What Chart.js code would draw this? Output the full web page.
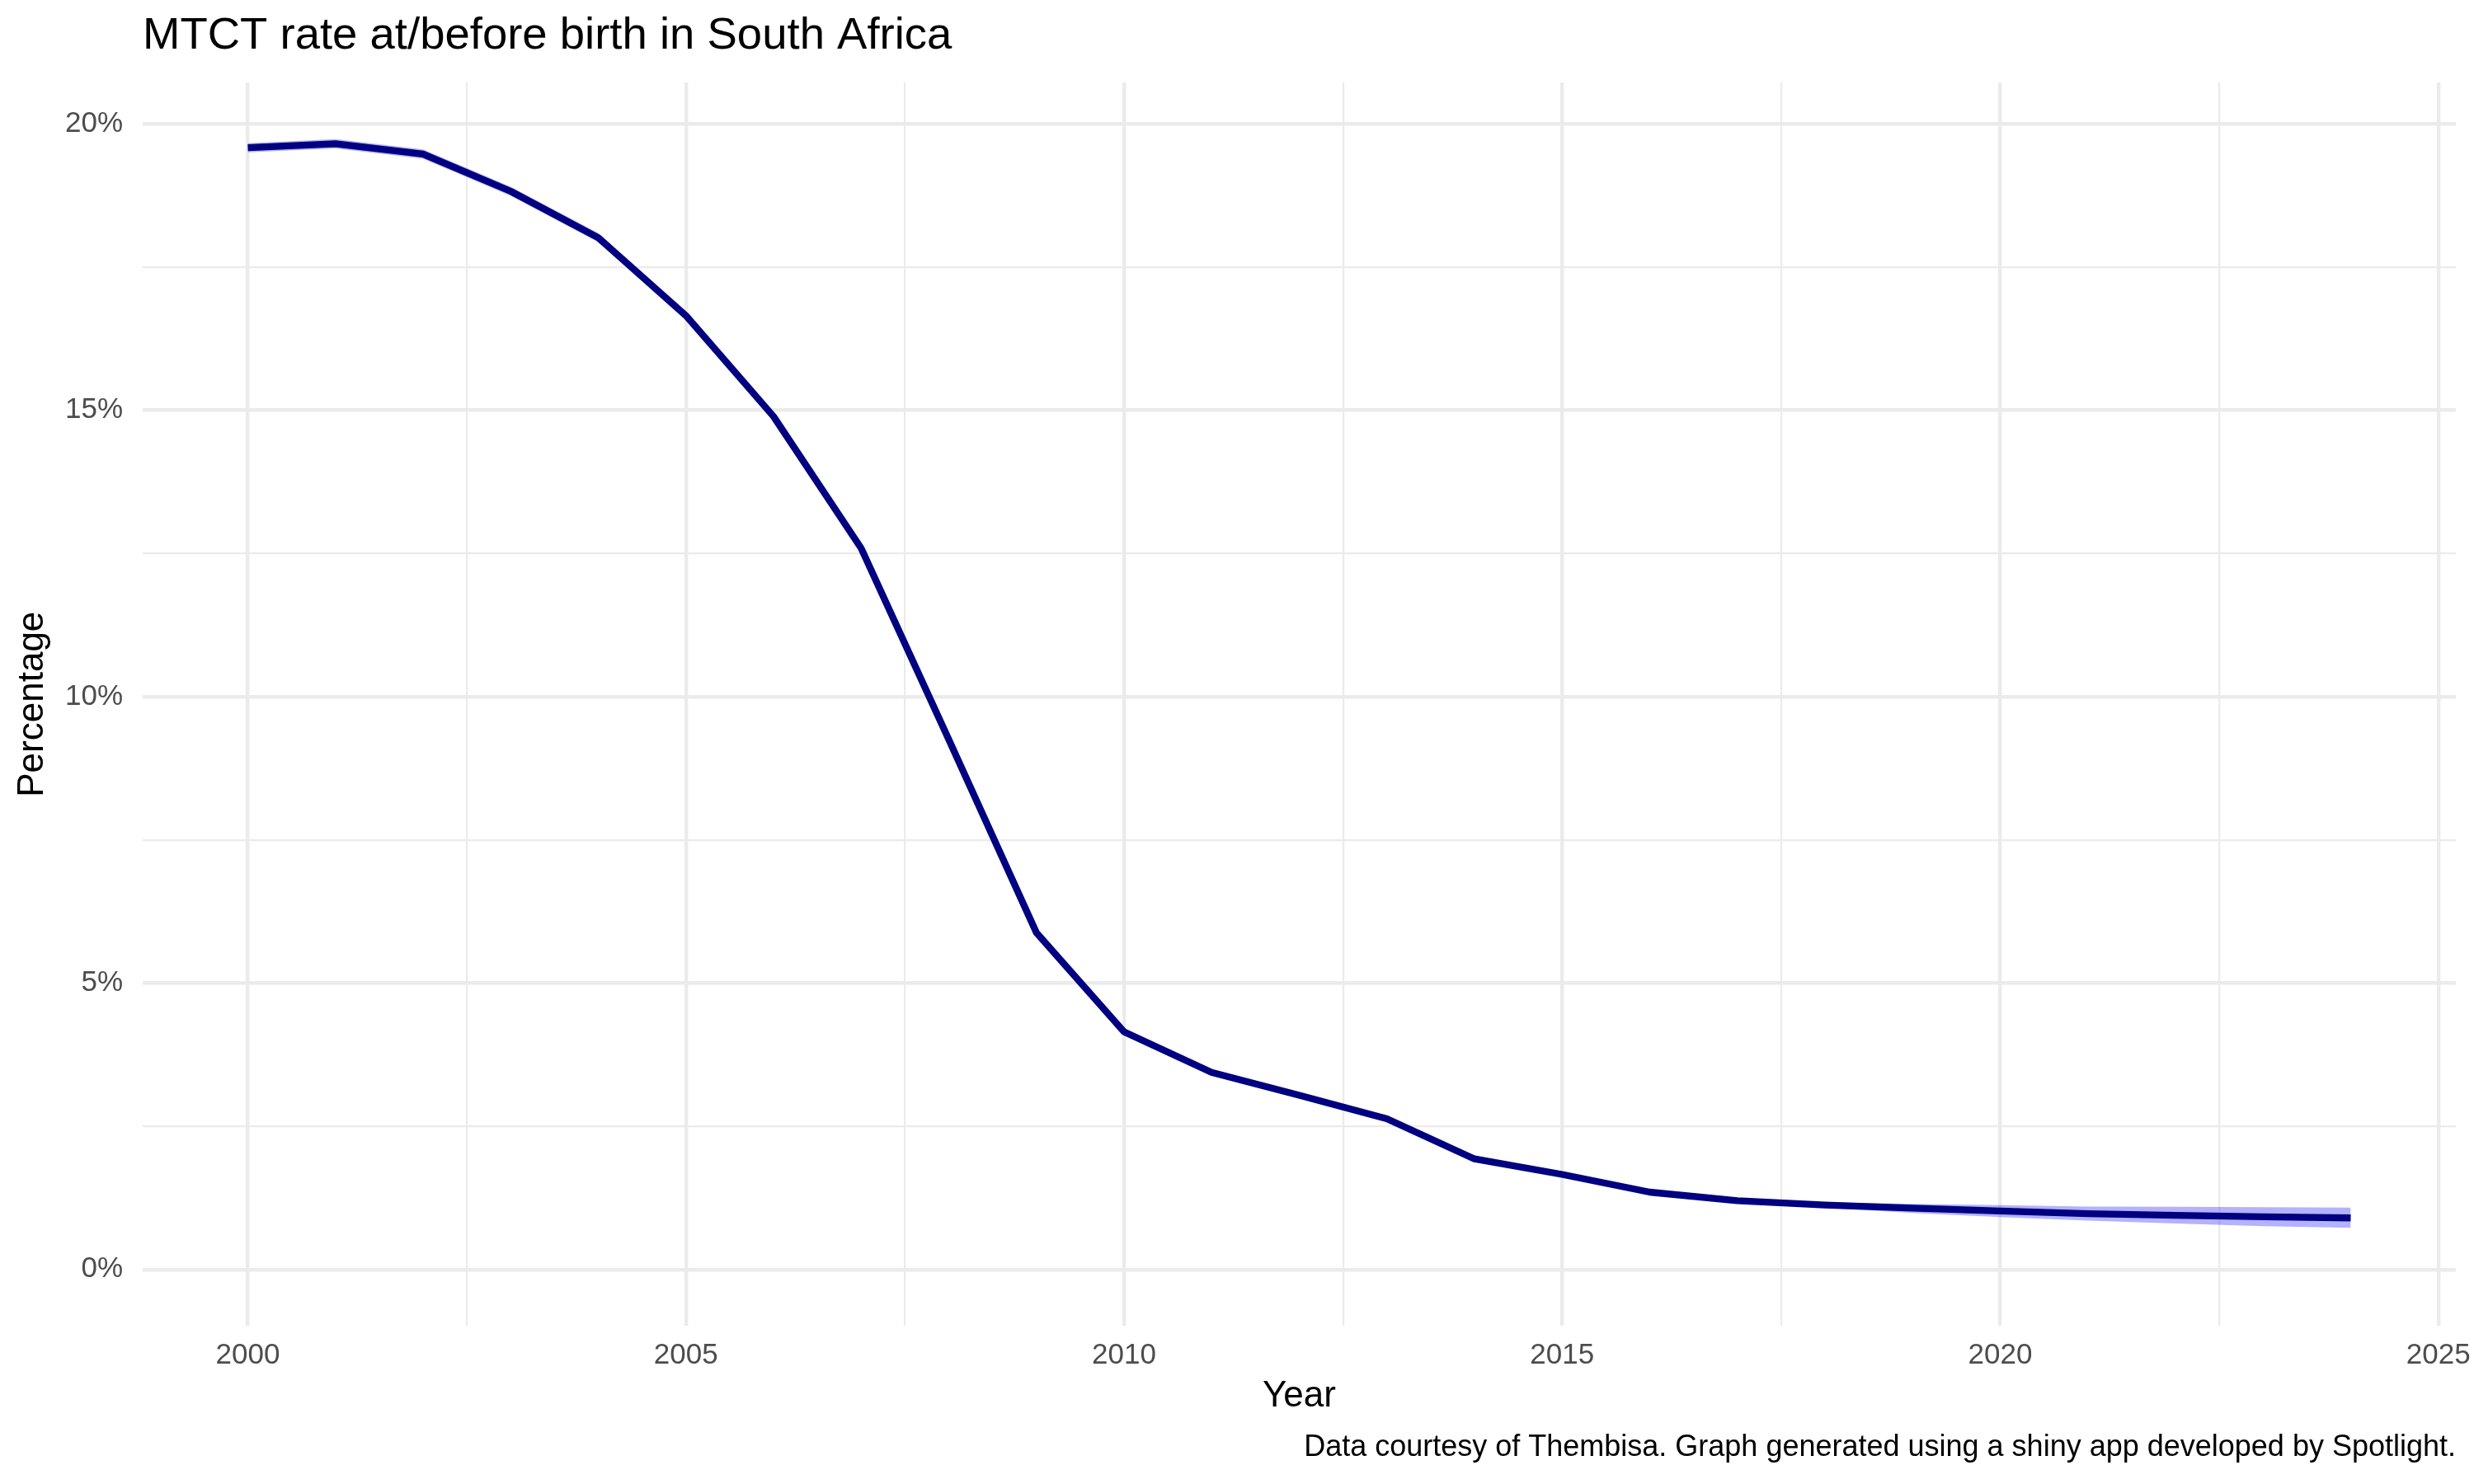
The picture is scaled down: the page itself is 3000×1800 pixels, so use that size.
<!DOCTYPE html>
<html>
<head>
<meta charset="utf-8">
<script src="https://cdn.jsdelivr.net/npm/chart.js@4/dist/chart.umd.min.js"></script>
<style>
  html, body { margin: 0; padding: 0; background: #ffffff; }
  #wrap { width: 3000px; height: 1800px; }
  canvas { display: block; }
</style>
</head>
<body>
<div id="wrap"><canvas id="c" width="3000" height="1800"></canvas></div>
<script>
// ---- data ----
const years = [2000, 2001, 2002, 2003, 2004, 2005, 2006, 2007, 2008, 2009, 2010, 2011, 2012,
               2013, 2014, 2015, 2016, 2017, 2018, 2019, 2020, 2021, 2022, 2023, 2024];
const mtctRate = [19.58, 19.65, 19.47, 18.82, 18.01, 16.65, 14.89, 12.59, 9.25, 5.88, 4.15, 3.44, 3.04,
                  2.63, 1.93, 1.66, 1.35, 1.20, 1.125, 1.07, 1.02, 0.975, 0.945, 0.92, 0.90];
const mtctUpper = [19.66, 19.73, 19.55, 18.90, 18.09, 16.69, 14.93, 12.63, 9.29, 5.92, 4.19, 3.48, 3.08,
                   2.67, 1.97, 1.70, 1.39, 1.24, 1.175, 1.145, 1.125, 1.10, 1.093, 1.088, 1.079];
const mtctLower = [19.50, 19.57, 19.39, 18.74, 17.93, 16.61, 14.85, 12.55, 9.21, 5.84, 4.11, 3.40, 3.00,
                   2.59, 1.89, 1.62, 1.31, 1.16, 1.075, 0.985, 0.915, 0.855, 0.805, 0.758, 0.727];
const xTickValues = [2000, 2002.5, 2005, 2007.5, 2010, 2012.5, 2015, 2017.5, 2020, 2022.5, 2025];
const yTickValues = [0, 2.5, 5, 7.5, 10, 12.5, 15, 17.5, 20];
const titleText = 'MTCT rate at/before birth in South Africa';
const captionText = 'Data courtesy of Thembisa. Graph generated using a shiny app developed by Spotlight.';
const xAxisTitle = 'Year';
const yAxisTitle = 'Percentage';

const FONT = "'Liberation Sans', Arial, Helvetica, sans-serif";
const toPoints = (vals) => years.map((x, i) => ({ x: x, y: vals[i] }));
const isMajor = (v) => Math.abs(v % 5) < 1e-9;
const gridWidth = (ctx) => (ctx.tick && isMajor(ctx.tick.value)) ? 4.4 : 2.2;

new Chart(document.getElementById('c'), {
  type: 'line',
  data: {
    datasets: [
      {
        label: 'MTCT rate',
        data: toPoints(mtctRate),
        borderColor: '#000080',
        borderWidth: 8.3,
        borderJoinStyle: 'round',
        borderCapStyle: 'butt',
        pointRadius: 0,
        tension: 0,
        fill: false
      },
      {
        label: 'upper',
        data: toPoints(mtctUpper),
        borderColor: 'rgba(0,0,0,0)',
        borderWidth: 1,
        backgroundColor: 'rgba(0,0,255,0.3)',
        pointRadius: 0,
        tension: 0,
        fill: '+1'
      },
      {
        label: 'lower',
        data: toPoints(mtctLower),
        borderColor: 'rgba(0,0,0,0)',
        borderWidth: 1,
        pointRadius: 0,
        tension: 0,
        fill: false
      }
    ]
  },
  options: {
    responsive: false,
    maintainAspectRatio: false,
    devicePixelRatio: 1,
    animation: false,
    events: [],
    layout: { padding: { left: 0, right: 22, top: 0, bottom: 0 } },
    plugins: {
      legend: { display: false },
      tooltip: { enabled: false },
      title: {
        display: true,
        text: titleText,
        align: 'start',
        fullSize: false,
        color: '#000000',
        font: { family: FONT, size: 54.5, weight: 'normal' },
        padding: { top: 11.5, bottom: 23.1 }
      },
      subtitle: {
        display: true,
        position: 'bottom',
        text: captionText,
        align: 'end',
        fullSize: false,
        color: '#000000',
        font: { family: FONT, size: 36, weight: 'normal' },
        padding: { top: 0, bottom: 22.3 }
      }
    },
    scales: {
      x: {
        type: 'linear',
        min: 1998.8,
        max: 2025.2,
        afterBuildTicks: (s) => { s.ticks = xTickValues.map(v => ({ value: v })); },
        afterFit: (s) => { s.height = 126.1; s.paddingLeft = 0; s.paddingRight = 0; },
        border: { display: false },
        grid: { color: '#ebebeb', lineWidth: gridWidth, drawTicks: false },
        ticks: {
          autoSkip: false,
          maxRotation: 0,
          padding: 14.6,
          color: '#4d4d4d',
          font: { family: FONT, size: 35 },
          callback: (v) => isMajor(v) ? String(v) : ''
        },
        title: {
          display: true,
          text: xAxisTitle,
          color: '#000000',
          font: { family: FONT, size: 44 },
          padding: { top: 0, bottom: 14.5 }
        }
      },
      y: {
        type: 'linear',
        min: -0.987,
        max: 20.72,
        afterBuildTicks: (s) => { s.ticks = yTickValues.map(v => ({ value: v })); },
        afterFit: (s) => { s.width = 173; s.paddingTop = 0; s.paddingBottom = 0; },
        border: { display: false },
        grid: { color: '#ebebeb', lineWidth: gridWidth, drawTicks: false },
        ticks: {
          autoSkip: false,
          padding: 24,
          color: '#4d4d4d',
          font: { family: FONT, size: 35 },
          callback: (v) => isMajor(v) ? (v + '%') : ''
        },
        title: {
          display: true,
          text: yAxisTitle,
          color: '#000000',
          font: { family: FONT, size: 44 },
          padding: { top: 13.6, bottom: 0 }
        }
      }
    }
  }
});
</script>
</body>
</html>
